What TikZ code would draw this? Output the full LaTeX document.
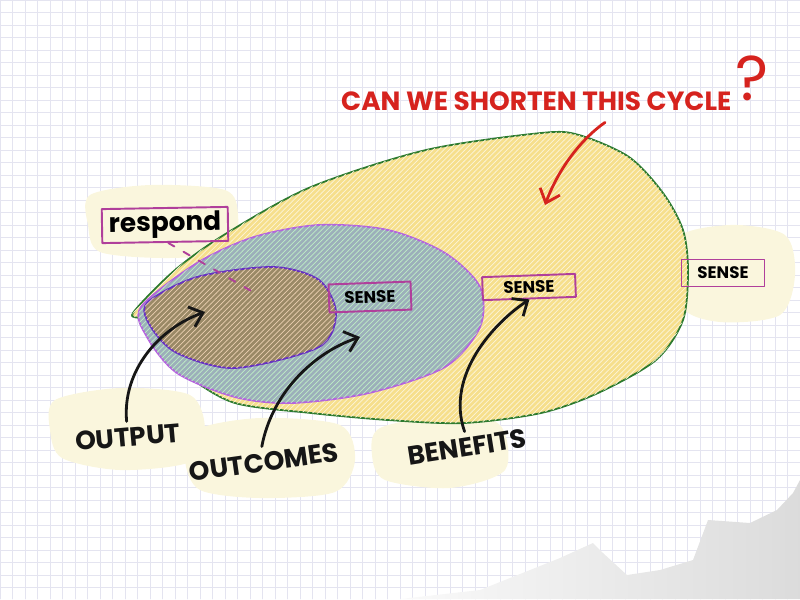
\documentclass[tikz,border=0pt]{standalone}
\usepackage{fontspec}
\setmainfont{Poppins}
\usepackage{tikz}
\usetikzlibrary{arrows.meta,patterns,calc}
\definecolor{gridline}{HTML}{E4E4F0}
\definecolor{marker}{HTML}{161616}
\definecolor{pen}{HTML}{D6231E}
\definecolor{highlight}{HTML}{FAF6DD}
\definecolor{eggfill}{HTML}{F6DF8C}
\definecolor{outcomefill}{HTML}{9CAFBA}
\definecolor{outputfill}{HTML}{9A8966}
\definecolor{eggline}{HTML}{2C7A2E}
\definecolor{ringline}{HTML}{B463DE}
\definecolor{coreline}{HTML}{6530C2}
\definecolor{tagline}{HTML}{B03F9B}
\tikzset{
  every picture/.style={
    line join=round,
    line cap=round,
  },
  tag/.style={draw=tagline, line width=1.1pt, inner sep=0pt,
    font=\bfseries\fontsize{9.5}{10}\selectfont},
  hand/.style={font=\bfseries\fontsize{15}{16}\selectfont, text=marker},
  pointer/.style={draw=marker, line width=1.6pt,
    -{Straight Barb[length=7pt,width=12pt]}},
}

\begin{document}
\begin{tikzpicture}[x={(0.02cm,0)},y={(0,-0.02cm)}]
\useasboundingbox (0,0) rectangle (800,599);
% squared paper
\foreach \gx in {0,12.5,...,800} \draw[gridline,line width=0.5pt](\gx,0)--(\gx,599);
\foreach \gy in {0,12.5,...,599} \draw[gridline,line width=0.5pt](0,\gy)--(800,\gy);
% highlighter under the words
\fill[highlight]plot[smooth cycle]coordinates{(90,195)(150,185)(225,190)(238,215)(230,250)(170,258)(100,252)(88,225)};
\fill[highlight]plot[smooth cycle]coordinates{(55,400)(120,388)(190,395)(205,430)(190,462)(120,470)(62,458)(50,430)};
\fill[highlight]plot[smooth cycle]coordinates{(195,430)(260,418)(340,425)(355,460)(335,492)(260,498)(200,490)(185,460)};
\fill[highlight]plot[smooth cycle]coordinates{(380,428)(450,415)(500,425)(505,470)(450,488)(385,480)(372,455)};
\fill[highlight]plot[smooth cycle]coordinates{(675,240)(730,225)(785,235)(795,275)(780,315)(720,322)(680,305)};
% smudge bottom right
\shade[left color=gray!4,right color=gray!28](400,599)--(480,590)--(560,558)--(593,543)--(603,553)--(627,575)--(660,570)--(693,560)--(708,520)--(750,523)--(777,510)--(793,493)--(800,480)--(800,599)--cycle;
% the three cycles
\draw[eggline,line width=1pt,fill=eggfill,postaction={pattern=north east lines,pattern color=white!65!eggfill}]
  plot[smooth cycle]coordinates{(133,313)(175,270)(227,233)(311,187)(426,150)(541,133)(579,135)(629,157)(663,193)(683,230)(688,270)(683,320)(656,360)(598,393)(541,413)(464,423)(388,420)(311,413)(235,403)(189,377)(154,347)(143,320)};
\draw[ringline,line width=1pt,fill=outcomefill,postaction={pattern=north east lines,pattern color=outcomefill!60!green!40!white}]
  plot[smooth cycle]coordinates{(141,307)(197,263)(254,237)(319,225)(388,230)(445,253)(480,287)(480,327)(445,367)(369,393)(292,403)(235,397)(177,373)(147,337)};
\draw[coreline,line width=1pt,fill=outputfill,postaction={pattern=north east lines,pattern color=outputfill!55!orange!40!white}]
  plot[smooth cycle]coordinates{(147,303)(197,277)(273,267)(319,280)(336,313)(319,347)(235,368)(177,353)(151,327)};
% tags
\node[tag,minimum width=2.52cm,minimum height=0.68cm,rotate=1](respond)at(165,225){\fontsize{15}{15}\selectfont respond};
\coordinate(respondend)at(253,292);
\draw[tagline,line width=1.1pt,dash pattern=on 4pt off 6pt]([xshift=0.06cm]respond.south)--(respondend);
\node[tag,minimum width=1.64cm,minimum height=0.56cm,rotate=2](sensea)at(370,297){SENSE};
\node[tag,minimum width=1.86cm,minimum height=0.46cm,rotate=2](senseb)at(529,287){SENSE};
\node[tag,minimum width=1.66cm,minimum height=0.54cm](sensec)at(723,273){SENSE};
% words and pointers
\node[hand,rotate=5](output)at(128,437){OUTPUT};
\node[hand,rotate=8](outcomes)at(264,462){OUTCOMES};
\node[hand,rotate=9](benefits)at(467,447){BENEFITS};
\coordinate(outputtip)at(205,312);
\coordinate(outcomestip)at(360,337);
\draw[pointer](output.north)..controls(122,370)and(160,328)..(outputtip);
\draw[pointer](outcomes.north)..controls(272,392)and(315,352)..(outcomestip);
\draw[pointer](benefits.north)..controls(445,375)and(495,322)..(senseb.south);
\node[hand,text=pen,anchor=base west](title)at(335,110){CAN WE SHORTEN THIS CYCLE\,\raisebox{0.35em}{\mdseries\fontsize{36}{36}\selectfont ?}};
\coordinate(cyclefrom)at(605,123);
\coordinate(cycletip)at(545,205);
\draw[pointer,draw=pen]($(title.south -| cyclefrom)+(0,6)$)..controls(580,140)and(558,170)..(cycletip);
\end{tikzpicture}
\end{document}
